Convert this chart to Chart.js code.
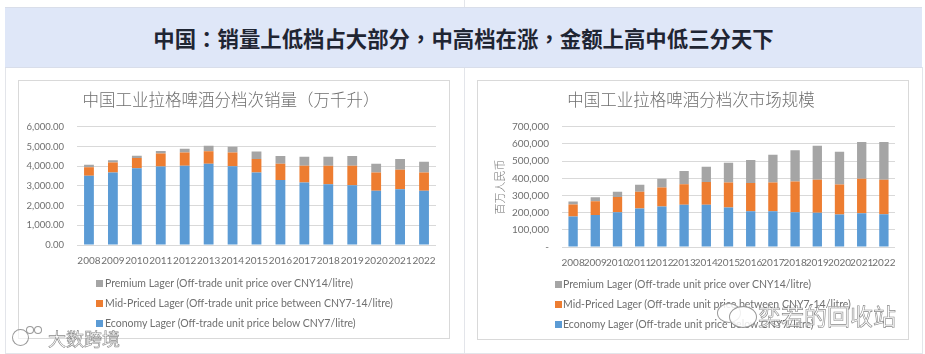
<!DOCTYPE html>
<html lang="zh">
<head>
<meta charset="utf-8">
<style>
html,body{margin:0;padding:0;background:#fff;width:925px;height:354px;overflow:hidden}
.abs{position:absolute}
#hdr{left:5px;top:7px;width:917px;height:59px;background:#dfe7f8;border-top:1px solid #d9deea;border-bottom:1px solid #d9deea;display:flex;align-items:center;justify-content:center;font:700 21.4px "Noto Sans CJK SC";color:#1f2533;white-space:nowrap}
#hdr span{font-family:"Noto Sans CJK TC"}
.line{background:#e3e5ea}
.box{box-sizing:border-box;border:1px solid #d9d9d9;background:#fff}
.lg{font:10.5px Lato;color:#6f6f6f;white-space:nowrap;line-height:12px}
.sw{width:7px;height:7px}
.wm{font-family:"Noto Sans CJK SC";font-weight:400;white-space:nowrap;color:rgba(255,255,255,.75);-webkit-text-stroke:.6px rgba(95,95,95,.75)}
.ov{box-sizing:border-box;border:1px solid rgba(110,110,110,.7);border-radius:50%;background:rgba(255,255,255,.85)}
</style>
</head>
<body>
<div class="abs line" style="left:464px;top:0;width:1px;height:354px"></div>
<div class="abs line" style="left:5px;top:67px;width:1px;height:286px"></div>
<div class="abs line" style="left:922px;top:67px;width:1px;height:286px"></div>
<div class="abs line" style="left:5px;top:353px;width:918px;height:1px"></div>
<div class="abs" id="hdr">中国<span>：</span>销量上低档占大部分<span>，</span>中高档在涨<span>，</span>金额上高中低三分天下</div>
<div class="abs box" style="left:18px;top:80px;width:432px;height:259px"><canvas id="c1"></canvas></div>
<div class="abs box" style="left:477px;top:80px;width:432px;height:260px"><canvas id="c2"></canvas></div>
<div id="legends"></div>
<div class="abs ov" style="left:12px;top:329px;width:17px;height:17px;background:rgba(255,255,255,.6)"></div>
<div class="abs ov" style="left:26px;top:326px;width:8px;height:8px"></div>
<div class="abs ov" style="left:34px;top:326px;width:8px;height:8px"></div>
<div class="abs wm" style="left:48px;top:325px;font-size:18px">大数跨境</div>
<div class="abs ov" style="left:717px;top:303px;width:24px;height:20px"></div>
<div class="abs ov" style="left:729px;top:306px;width:28px;height:22px"></div>
<div class="abs wm" style="left:758px;top:298px;font-size:23px">奕若的回收站</div>
<script src="https://cdn.jsdelivr.net/npm/chart.js@4/dist/chart.umd.min.js"></script>
<script>
const years = ["2008","2009","2010","2011","2012","2013","2014","2015","2016","2017","2018","2019","2020","2021","2022"];
const seriesNames = ["Premium Lager (Off-trade unit price over CNY14/litre)","Mid-Priced Lager (Off-trade unit price between CNY7-14/litre)","Economy Lager (Off-trade unit price below CNY7/litre)"];
const seriesColors = ["#a5a5a5","#ed7d31","#5b9bd5"];
const volumeEconomy = [3510,3680,3890,3990,4020,4120,4000,3680,3300,3170,3090,3030,2760,2830,2760];
const volumeMid = [440,510,520,650,680,640,700,680,820,850,930,990,920,990,920];
const volumePremium = [120,110,120,130,190,280,290,380,400,460,460,500,440,540,550];
const valueEconomy = [177000,187000,203000,224000,236000,246000,246000,230000,208000,208000,203000,199000,189000,197000,191000];
const valueMid = [71000,80000,88000,98000,110000,120000,133000,146000,164000,168000,178000,192000,175000,200000,200000];
const valuePremium = [17000,22000,31000,40000,51000,76000,89000,114000,135000,161000,183000,199000,190000,214000,220000];
const volumeTitle = "中国工业拉格啤酒分档次销量（万千升）";
const valueTitle = "中国工业拉格啤酒分档次市场规模";
const valueAxisTitle = "百万人民币";

const txt = "#6f6f6f", grid = "#d9d9d9";
function makeChart(id, title, eco, mid, pre, max, step, fmt, padL, leftW, padB, barP, yFont, yTitle){
  const ds = (label, data, color) => ({label, data, backgroundColor: color, stack: "s", barPercentage: barP, categoryPercentage: 1, borderWidth: 0});
  return new Chart(document.getElementById(id), {
    type: "bar",
    data: {labels: years, datasets: [ds(seriesNames[2], eco, seriesColors[2]), ds(seriesNames[1], mid, seriesColors[1]), ds(seriesNames[0], pre, seriesColors[0])]},
    options: {
      responsive: false, animation: false,
      layout: {padding: {left: padL, right: 13, top: 0, bottom: padB}},
      plugins: {
        legend: {display: false}, tooltip: {enabled: false},
        title: {display: true, text: title, color: "#6f6f6f", font: {family: '"Noto Sans CJK SC"', size: 16.5, weight: "300"}, padding: {top: 9, bottom: 17}}
      },
      scales: {
        x: {stacked: true, grid: {display: false, drawTicks: false}, border: {display: false},
            ticks: {color: txt, font: {family: "Lato", size: 10}, autoSkip: false, maxRotation: 0, padding: 10},
            afterFit: s => { s.height = 22; }},
        y: {stacked: true, min: 0, max, border: {display: false},
            grid: {color: grid, drawTicks: false},
            ticks: {stepSize: step, color: txt, font: {family: "Lato", size: yFont}, padding: 13, callback: fmt},
            title: yTitle ? {display: true, text: yTitle, color: txt, font: {family: '"Noto Sans CJK SC"', size: 11, weight: "300"}, padding: {top: 6, bottom: 0}} : {display: false},
            afterFit: s => { s.width = leftW; }}
      }
    }
  });
}
function sizeCanvas(id, w, h){ const c = document.getElementById(id); c.width = w; c.height = h; c.style.display = "block"; }
sizeCanvas("c1", 430, 257); sizeCanvas("c2", 430, 258);
const fmt2 = v => v.toLocaleString("en-US", {minimumFractionDigits: 2, maximumFractionDigits: 2});
const fmt0 = v => v === 0 ? "-" : v.toLocaleString("en-US");
makeChart("c1", volumeTitle, volumeEconomy, volumeMid, volumePremium, 6000, 1000, fmt2, 7, 51, 71, 0.41, 9.5, null);
makeChart("c2", valueTitle, valueEconomy, valueMid, valuePremium, 700000, 100000, fmt0, 9, 75, 70, 0.42, 10, valueAxisTitle);

const lgRoot = document.getElementById("legends");
[[96, 105, 283], [555, 563, 284]].forEach(([sx, tx, y0]) => {
  seriesNames.forEach((n, i) => {
    const y = y0 + i * 20;
    lgRoot.insertAdjacentHTML("afterbegin",
      `<div class="abs sw" style="left:${sx}px;top:${y - 3}px;background:${seriesColors[i]}"></div>` +
      `<div class="abs lg" style="left:${tx}px;top:${y - 6}px">${n}</div>`);
  });
});
</script>
</body>
</html>
